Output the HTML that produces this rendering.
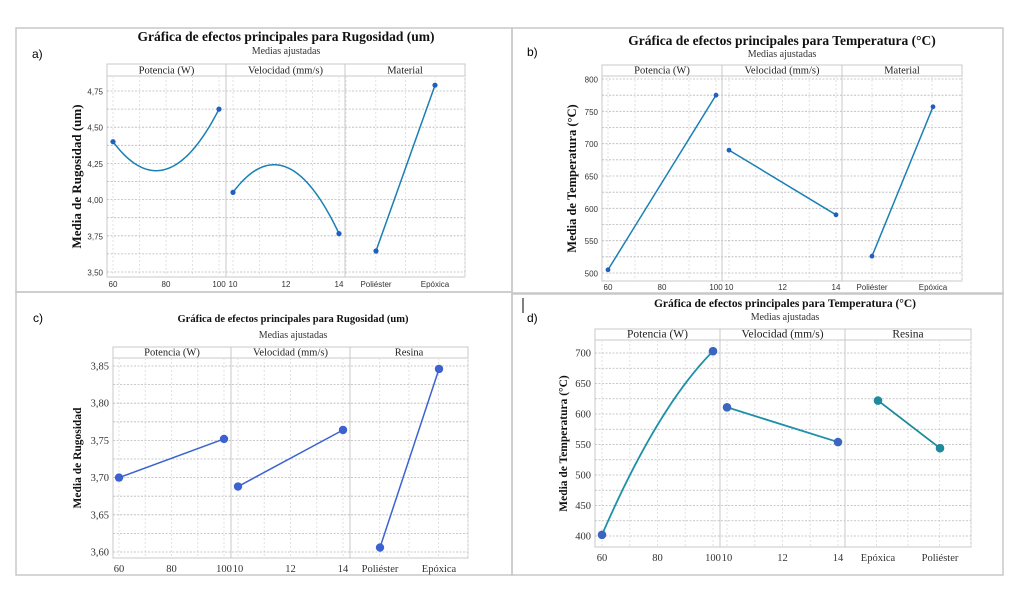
<!DOCTYPE html>
<html><head><meta charset="utf-8"><style>
html,body{margin:0;padding:0;background:#fff;}
svg{display:block;}
</style></head><body>
<svg id="s" width="1015" height="599" viewBox="0 0 1015 599" xmlns="http://www.w3.org/2000/svg"></svg>
<script>
// ---- Panel a data ----
const aPotX = [60, 80, 100];
const aPotY = [4.40, 4.21, 4.625];
const aVelX = [10, 12, 14];
const aVelY = [4.05, 4.225, 3.765];
const aMatCats = ["Poliéster", "Epóxica"];
const aMatY = [3.645, 4.79];
const aYTicks = ["4,75", "4,50", "4,25", "4,00", "3,75", "3,50"];
const aYTickVals = [4.75, 4.5, 4.25, 4.0, 3.75, 3.5];
// ---- Panel b data ----
const bPotX = [60, 100];
const bPotY = [505, 775];
const bVelX = [10, 14];
const bVelY = [690, 590];
const bMatCats = ["Poliéster", "Epóxica"];
const bMatY = [526, 757];
const bYTickVals = [800, 750, 700, 650, 600, 550, 500];
// ---- Panel c data ----
const cPotX = [60, 100];
const cPotY = [3.700, 3.752];
const cVelX = [10, 14];
const cVelY = [3.688, 3.764];
const cResCats = ["Poliéster", "Epóxica"];
const cResY = [3.606, 3.846];
const cYTicks = ["3,85", "3,80", "3,75", "3,70", "3,65", "3,60"];
const cYTickVals = [3.85, 3.80, 3.75, 3.70, 3.65, 3.60];
// ---- Panel d data ----
const dPotX = [60, 80, 100];
const dPotY = [402, 582, 703];
const dVelX = [10, 14];
const dVelY = [611, 554];
const dResCats = ["Epóxica", "Poliéster"];
const dResY = [622, 544];
const dYTickVals = [700, 650, 600, 550, 500, 450, 400];

const NS = "http://www.w3.org/2000/svg";
const svg = document.getElementById('s');
function el(tag, attrs, parent, txt){
  const e = document.createElementNS(NS, tag);
  for (const k in attrs) e.setAttribute(k, attrs[k]);
  if (txt !== undefined) e.textContent = txt;
  (parent || svg).appendChild(e);
  return e;
}
function lagrange(xs, ys, x){
  let s = 0;
  for (let i=0;i<xs.length;i++){
    let p = ys[i];
    for (let j=0;j<xs.length;j++) if (j!==i) p *= (x-xs[j])/(xs[i]-xs[j]);
    s += p;
  }
  return s;
}

function panel(cfg){
  const g = el('g', {});
  
  
  const bd = el('rect', {x:cfg.box[0], y:cfg.box[1], width:cfg.box[2], height:cfg.box[3], fill:'none', stroke:'#c8c8c8', 'stroke-width':1.5}, g);
  
  
  const t = el('text', {x:cfg.titleX, y:cfg.titleY, 'text-anchor':'middle', 'font-family':'Liberation Serif, serif', 'font-weight':'bold', 'font-size':cfg.titleSize, fill:'#111'}, g, cfg.title);
  
  
  const st = el('text', {x:cfg.titleX, y:cfg.subY, 'text-anchor':'middle', 'font-family':'Liberation Serif, serif', 'font-size':10, fill:'#333'}, g, 'Medias ajustadas');
  
  
  const lb = el('text', {x:cfg.labelX, y:cfg.labelY, 'font-family':'Liberation Sans, sans-serif', 'font-size':12, fill:'#000'}, g, cfg.label);
  
  

  const L=cfg.plot[0], R=cfg.plot[1], HT=cfg.plot[2], HB=cfg.plot[3], B=cfg.plot[4];
  const yv = v => cfg.yPix[0] + (v - cfg.yVals[0])*(cfg.yPix[1]-cfg.yPix[0])/(cfg.yVals[1]-cfg.yVals[0]);
  el('rect', {x:L, y:HT, width:R-L, height:B-HT, fill:'#fff', stroke:'#c8c8c8', 'stroke-width':1}, g);
  el('line', {x1:L, y1:HB, x2:R, y2:HB, stroke:'#c8c8c8'}, g);
  cfg.subs.forEach(sp=>{
    for (let k=0;k<=sp.vgrid;k++){
      const x = sp.x0 + (sp.x1-sp.x0)*k/sp.vgrid;
      el('line', {x1:x, y1:HB, x2:x, y2:B, stroke:'#e2e2e2', 'stroke-dasharray':'2,2'}, g);
    }
  });
  const step = cfg.yTickVals[0]-cfg.yTickVals[1];
  for (let i=0;i<cfg.yTickVals.length;i++){
    const v = cfg.yTickVals[i];
    [v, v+step/2].forEach(w=>{
      const y = yv(w);
      if (y < HB+2 || y > B) return;
      el('line', {x1:L, y1:y, x2:R, y2:y, stroke:'#b8b8b8', 'stroke-dasharray':'2,1.5', 'stroke-width':0.8}, g);
    });
    const tl = el('text', {x:L-4, y:yv(v)+3.5, 'text-anchor':'end', 'font-family':cfg.tickFont, 'font-size':cfg.tickSize, fill:'#333'}, g, cfg.yTicks ? cfg.yTicks[i] : String(v));
    
    
  }
  cfg.divs.forEach(x=> el('line', {x1:x, y1:HT, x2:x, y2:B, stroke:'#c8c8c8'}, g));
  const yt = el('text', {x:0, y:0, transform:`translate(${cfg.yTitleX},${(HB+B)/2}) rotate(-90)`, 'text-anchor':'middle', 'font-family':'Liberation Serif, serif', 'font-weight':'bold', 'font-size':cfg.yTitleSize, fill:'#111'}, g, cfg.yTitle);
  
  
  cfg.subs.forEach(sp=>{
    const h = el('text', {x:(sp.x0h+sp.x1h)/2, y:HB-2.5, 'text-anchor':'middle', 'font-family':'Liberation Serif, serif', 'font-size':cfg.headSize, fill:'#222'}, g, sp.head);
    
    
    const xp = sp.cats ? (i => sp.px[0] + i*(sp.px[1]-sp.px[0])) : (v => sp.px[0] + (v-sp.dom[0])*(sp.px[1]-sp.px[0])/(sp.dom[1]-sp.dom[0]));
    (sp.cats ? sp.cats.map((c,i)=>[i,c]) : sp.ticks.map(v=>[v,String(v)])).forEach(([v,lab])=>{
      const tx = el('text', {x:xp(v), y:B+cfg.xTickDy, 'text-anchor':'middle', 'font-family':cfg.tickFont, 'font-size':cfg.tickSize, fill:'#333'}, g, lab);
      
      
    });
    const xs = sp.cats ? sp.cats.map((c,i)=>i) : sp.xs;
    let d;
    if (sp.curve){
      d = '';
      const n = 40;
      for (let k=0;k<=n;k++){
        const xv = xs[0] + (xs[xs.length-1]-xs[0])*k/n;
        d += (k?'L':'M') + xp(xv).toFixed(2) + ',' + yv(lagrange(xs, sp.ys, xv)).toFixed(2);
      }
    } else {
      d = xs.map((x,i)=>(i?'L':'M')+xp(x)+','+yv(sp.ys[i])).join('');
    }
    const ln = el('path', {d:d, fill:'none', stroke:sp.lineColor, 'stroke-width':cfg.lw}, g);
    
    
    const endIdx = sp.curve ? [0, xs.length-1] : xs.map((x,i)=>i);
    endIdx.forEach(i=>{
      const c = el('circle', {cx:xp(xs[i]), cy:yv(sp.ys[i]), r:cfg.r, fill:sp.ptColor}, g);
      
      
    });
  });
}

const sansT = 'Liberation Sans, sans-serif';
const serifT = 'Liberation Serif, serif';
const teal = '#1a7fb5';

panel({name:'panel-a-rugosidad', box:[16,28,496,264], title:'Gráfica de efectos principales para Rugosidad (um)', titleX:286, titleY:41, titleSize:13.5, subY:54, label:'a)', labelX:32, labelY:58,
  plot:[107,465,64,76,277], yPix:[91,272], yVals:[4.75,3.5], yTickVals:aYTickVals, yTicks:aYTicks, tickFont:sansT, tickSize:8, headSize:10.5, xTickDy:10,
  yTitle:'Media de Rugosidad (um)', yTitleX:81, yTitleSize:13, lw:1.5, r:2.6, divs:[226,345],
  subs:[
    {head:'Potencia (W)', x0h:107, x1h:226, x0:113, x1:219, vgrid:4, px:[113,219], dom:[60,100], ticks:[60,80,100], xs:aPotX, ys:aPotY, curve:true, lineColor:teal, ptColor:'#1f5fc0'},
    {head:'Velocidad (mm/s)', x0h:226, x1h:345, x0:233, x1:339, vgrid:4, px:[233,339], dom:[10,14], ticks:[10,12,14], xs:aVelX, ys:aVelY, curve:true, lineColor:teal, ptColor:'#1f5fc0'},
    {head:'Material', x0h:345, x1h:465, x0:346, x1:465, vgrid:4, px:[376,435], cats:aMatCats, ys:aMatY, lineColor:teal, ptColor:'#1f5fc0'}
  ]});

panel({name:'panel-b-temperatura', box:[512,28,491,266], title:'Gráfica de efectos principales para Temperatura (°C)', titleX:782, titleY:45, titleSize:13.5, subY:57, label:'b)', labelX:527, labelY:56,
  plot:[602,962,65,76,281], yPix:[79,273], yVals:[800,500], yTickVals:bYTickVals, tickFont:sansT, tickSize:8, headSize:10.5, xTickDy:9,
  yTitle:'Media de Temperatura (°C)', yTitleX:576, yTitleSize:12.5, lw:1.5, r:2.4, divs:[722,842],
  subs:[
    {head:'Potencia (W)', x0h:602, x1h:722, x0:608, x1:716, vgrid:4, px:[608,716], dom:[60,100], ticks:[60,80,100], xs:bPotX, ys:bPotY, lineColor:teal, ptColor:'#1f5fc0'},
    {head:'Velocidad (mm/s)', x0h:722, x1h:842, x0:729, x1:836, vgrid:4, px:[729,836], dom:[10,14], ticks:[10,12,14], xs:bVelX, ys:bVelY, lineColor:teal, ptColor:'#1f5fc0'},
    {head:'Material', x0h:842, x1h:962, x0:842, x1:962, vgrid:4, px:[872,933], cats:bMatCats, ys:bMatY, lineColor:teal, ptColor:'#1f5fc0'}
  ]});

panel({name:'panel-c-rugosidad', box:[16,292,496,283], title:'Gráfica de efectos principales para Rugosidad (um)', titleX:293, titleY:322, titleSize:10.5, subY:338, label:'c)', labelX:33, labelY:322,
  plot:[113,468,347,358,558], yPix:[366,552], yVals:[3.85,3.60], yTickVals:cYTickVals, yTicks:cYTicks, tickFont:serifT, tickSize:10.5, headSize:10.5, xTickDy:14,
  yTitle:'Media de Rugosidad', yTitleX:81, yTitleSize:11.5, lw:1.5, r:4.2, divs:[231,350],
  subs:[
    {head:'Potencia (W)', x0h:113, x1h:231, x0:119, x1:224, vgrid:4, px:[119,224], dom:[60,100], ticks:[60,80,100], xs:cPotX, ys:cPotY, lineColor:'#3b62d0', ptColor:'#3b62d0'},
    {head:'Velocidad (mm/s)', x0h:231, x1h:350, x0:238, x1:343, vgrid:4, px:[238,343], dom:[10,14], ticks:[10,12,14], xs:cVelX, ys:cVelY, lineColor:'#3b62d0', ptColor:'#3b62d0'},
    {head:'Resina', x0h:350, x1h:468, x0:350, x1:468, vgrid:4, px:[380,439], cats:cResCats, ys:cResY, lineColor:'#3b62d0', ptColor:'#3b62d0'}
  ]});

panel({name:'panel-d-temperatura', box:[512,293,491,282], title:'Gráfica de efectos principales para Temperatura (°C)', titleX:785, titleY:307, titleSize:11.5, subY:320, label:'d)', labelX:527, labelY:322,
  plot:[595,971,329,340,547], yPix:[353,536], yVals:[700,400], yTickVals:dYTickVals, tickFont:serifT, tickSize:10.5, headSize:11.5, xTickDy:14,
  yTitle:'Media de Temperatura (°C)', yTitleX:567, yTitleSize:11.5, lw:1.8, r:4.3, divs:[720,845],
  subs:[
    {head:'Potencia (W)', x0h:595, x1h:720, x0:602, x1:713, vgrid:4, px:[602,713], dom:[60,100], ticks:[60,80,100], xs:dPotX, ys:dPotY, curve:true, lineColor:'#1e90a8', ptColor:'#3a66c0'},
    {head:'Velocidad (mm/s)', x0h:720, x1h:845, x0:727, x1:838, vgrid:4, px:[727,838], dom:[10,14], ticks:[10,12,14], xs:dVelX, ys:dVelY, lineColor:'#1e90a8', ptColor:'#3a66c0'},
    {head:'Resina', x0h:845, x1h:971, x0:845, x1:971, vgrid:4, px:[878,940], cats:dResCats, ys:dResY, lineColor:'#1e8a9a', ptColor:'#1e8a9a'}
  ]});

const cur = el('line', {x1:523, y1:298, x2:523, y2:313, stroke:'#000', 'stroke-width':1});


</script>
</body></html>
